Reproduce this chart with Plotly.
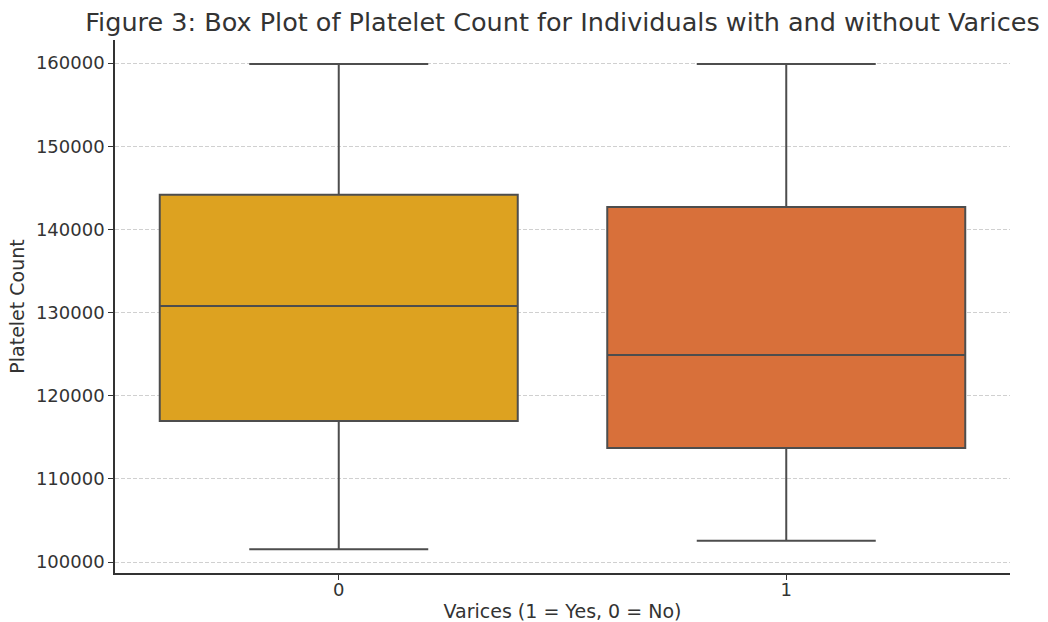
import plotly.graph_objects as go

categories = ["0", "1"]
q1 = [116950, 113700]
median = [130800, 124900]
q3 = [144150, 142700]
lower_whisker = [101550, 102550]
upper_whisker = [159880, 159880]
colors = ["#DDA220", "#D8703A"]
y_ticks = [100000, 110000, 120000, 130000, 140000, 150000, 160000]

fig = go.Figure()
for i, cat in enumerate(categories):
    fig.add_trace(go.Box(
        x=[cat],
        q1=[q1[i]], median=[median[i]], q3=[q3[i]],
        lowerfence=[lower_whisker[i]], upperfence=[upper_whisker[i]],
        fillcolor=colors[i],
        line=dict(color="#4d4d4d", width=2),
        width=0.8,
        whiskerwidth=0.5,
        boxpoints=False,
        showlegend=False,
        hoverinfo="skip",
    ))

font_family = "DejaVu Sans"
txt = "#333333"
fig.update_layout(
    width=1048, height=622,
    margin=dict(l=115, r=38, t=40, b=49),
    paper_bgcolor="white", plot_bgcolor="white",
    font=dict(family=font_family, color=txt, size=18),
    title=dict(
        text="Figure 3: Box Plot of Platelet Count for Individuals with and without Varices",
        x=(115 + 1010) / 2 / 1048, xanchor="center",
        y=1 - 22 / 622, yanchor="middle",
        font=dict(size=25.5, color=txt, family=font_family),
    ),
    xaxis=dict(
        type="category",
        categoryorder="array", categoryarray=categories,
        range=[-0.5, 1.5],
        automargin=False,
        showline=True, linecolor="#333333", linewidth=1.5,
        ticks="outside", ticklen=5, tickcolor="#333333", tickwidth=1,
        ticklabelstandoff=-5,
        showgrid=False, zeroline=False,
        tickfont=dict(size=18, color=txt),
        title=dict(text="Varices (1 = Yes, 0 = No)", font=dict(size=19, color=txt), standoff=10),
    ),
    yaxis=dict(
        range=[98680, 162770],
        tickvals=y_ticks,
        tickformat="d",
        automargin=False,
        showline=True, linecolor="#333333", linewidth=1.5,
        ticks="outside", ticklen=5, tickcolor="#333333", tickwidth=1,
        showgrid=True, gridcolor="#d0d0d0", griddash="4px,2px", gridwidth=0.8,
        zeroline=False,
        layer="above traces",
        tickfont=dict(size=18, color=txt),
        title=dict(text="Platelet Count", font=dict(size=19, color=txt), standoff=6),
    ),
)

fig.write_html("out.html", config={"displayModeBar": False},
               post_script="document.body.style.margin='0';")
